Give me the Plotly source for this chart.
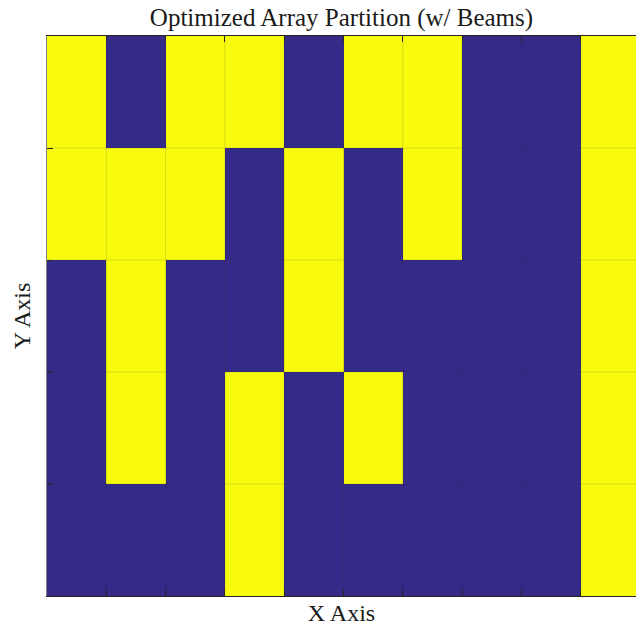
import plotly.graph_objects as go

# Cell values, rows listed top to bottom (1 = yellow, 0 = blue)
row_labels = ["1", "2", "3", "4", "5"]
col_labels = ["1", "2", "3", "4", "5", "6", "7", "8", "9", "10"]
row1 = [1, 0, 1, 1, 0, 1, 1, 0, 0, 1]
row2 = [1, 1, 1, 0, 1, 0, 1, 0, 0, 1]
row3 = [0, 1, 0, 0, 1, 0, 0, 0, 0, 1]
row4 = [0, 1, 0, 1, 0, 1, 0, 0, 0, 1]
row5 = [0, 0, 0, 1, 0, 0, 0, 0, 0, 1]
z = [row1, row2, row3, row4, row5]

ncol = len(col_labels)
nrow = len(row_labels)

fig = go.Figure(go.Heatmap(
    z=z,
    x=list(range(ncol)),
    y=list(range(nrow)),
    colorscale=[[0, "#352A87"], [1, "#F9FB0E"]],
    zmin=0, zmax=1,
    showscale=False,
    hoverinfo="skip",
))

# thin cell edges
for i in range(1, ncol):
    fig.add_shape(type="line", x0=i - 0.5, x1=i - 0.5, y0=-0.5, y1=nrow - 0.5,
                  xref="x", yref="y", line=dict(color="rgba(40,40,40,0.16)", width=1))
for j in range(1, nrow):
    fig.add_shape(type="line", x0=-0.5, x1=ncol - 0.5, y0=j - 0.5, y1=j - 0.5,
                  xref="x", yref="y", line=dict(color="rgba(40,40,40,0.16)", width=1))

font_family = "Liberation Serif, DejaVu Serif, serif"

fig.update_layout(
    width=636, height=630,
    margin=dict(l=47, r=0, t=36, b=34),
    paper_bgcolor="white", plot_bgcolor="white",
    showlegend=False,
    title=dict(text="Optimized Array Partition (w/ Beams)", x=0.5, xanchor="center",
               xref="paper", y=1 - 17 / 630, yanchor="middle",
               font=dict(family=font_family, size=25, color="#1a1a1a")),
    xaxis=dict(
        range=[-0.5, -0.5 + 589 / 59.3],
        tickvals=[i - 0.5 for i in range(1, ncol)],
        ticks="inside", ticklen=6, tickcolor="#262626", tickwidth=1,
        showticklabels=False, showgrid=False, zeroline=False,
        showline=True, linecolor="#262626", linewidth=1, mirror="ticks",
        title=dict(text="X Axis", font=dict(family=font_family, size=24, color="#1a1a1a"), standoff=8),
    ),
    yaxis=dict(
        range=[nrow - 0.5, -0.5],
        tickvals=[j - 0.5 for j in range(1, nrow)],
        ticks="inside", ticklen=6, tickcolor="#262626", tickwidth=1,
        showticklabels=False, showgrid=False, zeroline=False,
        showline=True, linecolor="#808080", linewidth=1,
        title=dict(text="Y Axis", font=dict(family=font_family, size=24, color="#1a1a1a"), standoff=8),
    ),
)

fig.write_html("out.html", config={"displayModeBar": False},
               post_script="document.body.style.margin='0';document.body.style.overflow='hidden';")
